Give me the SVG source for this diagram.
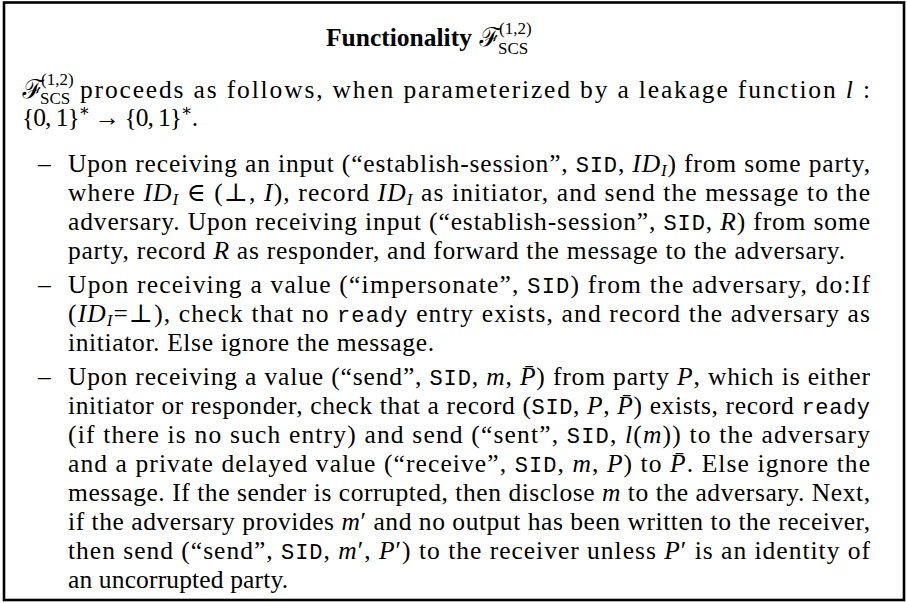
<svg xmlns="http://www.w3.org/2000/svg" width="907" height="603" viewBox="0 0 907 603">
<style>
.t{font-family:"Liberation Serif","DejaVu Serif",serif;font-size:25.5px;fill:#000}
.h{font-family:"Liberation Serif","DejaVu Serif",serif;font-size:25.5px;font-weight:bold;fill:#000}
.i{font-style:italic}
.m{font-family:"Liberation Mono","DejaVu Sans Mono",monospace;font-size:22px}
.s{font-size:17px}
.cal{font-family:"DejaVu Serif","Noto Sans",serif;font-style:italic;font-size:26px}
</style>
<rect x="0" y="0" width="907" height="603" fill="#fff"/>
<rect id="frame" x="4" y="2.5" width="900" height="597.5" fill="none" stroke="#000" stroke-width="2.6"/>
<g id="title">
<text class="h" x="326" y="46">Functionality</text>
<text class="cal" x="479" y="46">ℱ</text>
<text class="t s" x="499" y="34">(1,2)</text>
<text class="t s" x="498" y="54">SCS</text>
</g>
<g id="intro">
<text class="cal" x="22" y="98">ℱ</text>
<text class="t s" x="41" y="85">(1,2)</text>
<text class="t s" x="40" y="104">SCS</text>
<text class="t" x="80" y="98" textLength="790" lengthAdjust="spacing">proceeds as follows, when parameterized by a leakage function <tspan class="i">l</tspan> :</text>
<text class="t" x="22" y="126" textLength="176" lengthAdjust="spacing">{0, 1}<tspan class="s" dy="-10">∗</tspan><tspan dy="10"> → {0, 1}</tspan><tspan class="s" dy="-10">∗</tspan><tspan dy="10">.</tspan></text>
</g>
<g id="item1">
<text class="t" x="38" y="172">–</text>
<text class="t" x="68" y="172" textLength="802" lengthAdjust="spacing">Upon receiving an input (“establish-session”, <tspan class="m">SID</tspan>, <tspan class="i">ID</tspan><tspan class="i s" dy="4">I</tspan><tspan dy="-4">) from some party,</tspan></text>
<text class="t" x="68" y="201" textLength="802" lengthAdjust="spacing">where <tspan class="i">ID</tspan><tspan class="i s" dy="4">I</tspan><tspan dy="-4"> ∈ (⊥, </tspan><tspan class="i">I</tspan>), record <tspan class="i">ID</tspan><tspan class="i s" dy="4">I</tspan><tspan dy="-4"> as initiator, and send the message to the</tspan></text>
<text class="t" x="68" y="230" textLength="802" lengthAdjust="spacing">adversary. Upon receiving input (“establish-session”, <tspan class="m">SID</tspan>, <tspan class="i">R</tspan>) from some</text>
<text class="t" x="68" y="259" textLength="777" lengthAdjust="spacing">party, record <tspan class="i">R</tspan> as responder, and forward the message to the adversary.</text>
</g>
<g id="item2">
<text class="t" x="38" y="293">–</text>
<text class="t" x="68" y="293" textLength="802" lengthAdjust="spacing">Upon receiving a value (“impersonate”, <tspan class="m">SID</tspan>) from the adversary, do:If</text>
<text class="t" x="68" y="322" textLength="802" lengthAdjust="spacing">(<tspan class="i">ID</tspan><tspan class="i s" dy="4">I</tspan><tspan dy="-4">=⊥), check that no </tspan><tspan class="m">ready</tspan> entry exists, and record the adversary as</text>
<text class="t" x="68" y="351" textLength="366" lengthAdjust="spacing">initiator. Else ignore the message.</text>
</g>
<g id="item3">
<text class="t" x="38" y="385">–</text>
<text class="t" x="68" y="385" textLength="802" lengthAdjust="spacing">Upon receiving a value (“send”, <tspan class="m">SID</tspan>, <tspan class="i">m</tspan>, <tspan class="i">P̄</tspan>) from party <tspan class="i">P</tspan>, which is either</text>
<text class="t" x="68" y="414" textLength="802" lengthAdjust="spacing">initiator or responder, check that a record (<tspan class="m">SID</tspan>, <tspan class="i">P</tspan>, <tspan class="i">P̄</tspan>) exists, record <tspan class="m">ready</tspan></text>
<text class="t" x="68" y="443" textLength="802" lengthAdjust="spacing">(if there is no such entry) and send (“sent”, <tspan class="m">SID</tspan>, <tspan class="i">l</tspan>(<tspan class="i">m</tspan>)) to the adversary</text>
<text class="t" x="68" y="472" textLength="802" lengthAdjust="spacing">and a private delayed value (“receive”, <tspan class="m">SID</tspan>, <tspan class="i">m</tspan>, <tspan class="i">P</tspan>) to <tspan class="i">P̄</tspan>. Else ignore the</text>
<text class="t" x="68" y="501" textLength="802" lengthAdjust="spacing">message. If the sender is corrupted, then disclose <tspan class="i">m</tspan> to the adversary. Next,</text>
<text class="t" x="68" y="530" textLength="802" lengthAdjust="spacing">if the adversary provides <tspan class="i">m</tspan>′ and no output has been written to the receiver,</text>
<text class="t" x="68" y="559" textLength="802" lengthAdjust="spacing">then send (“send”, <tspan class="m">SID</tspan>, <tspan class="i">m</tspan>′, <tspan class="i">P</tspan>′) to the receiver unless <tspan class="i">P</tspan>′ is an identity of</text>
<text class="t" x="68" y="588" textLength="220" lengthAdjust="spacing">an uncorrupted party.</text>
</g>
</svg>
